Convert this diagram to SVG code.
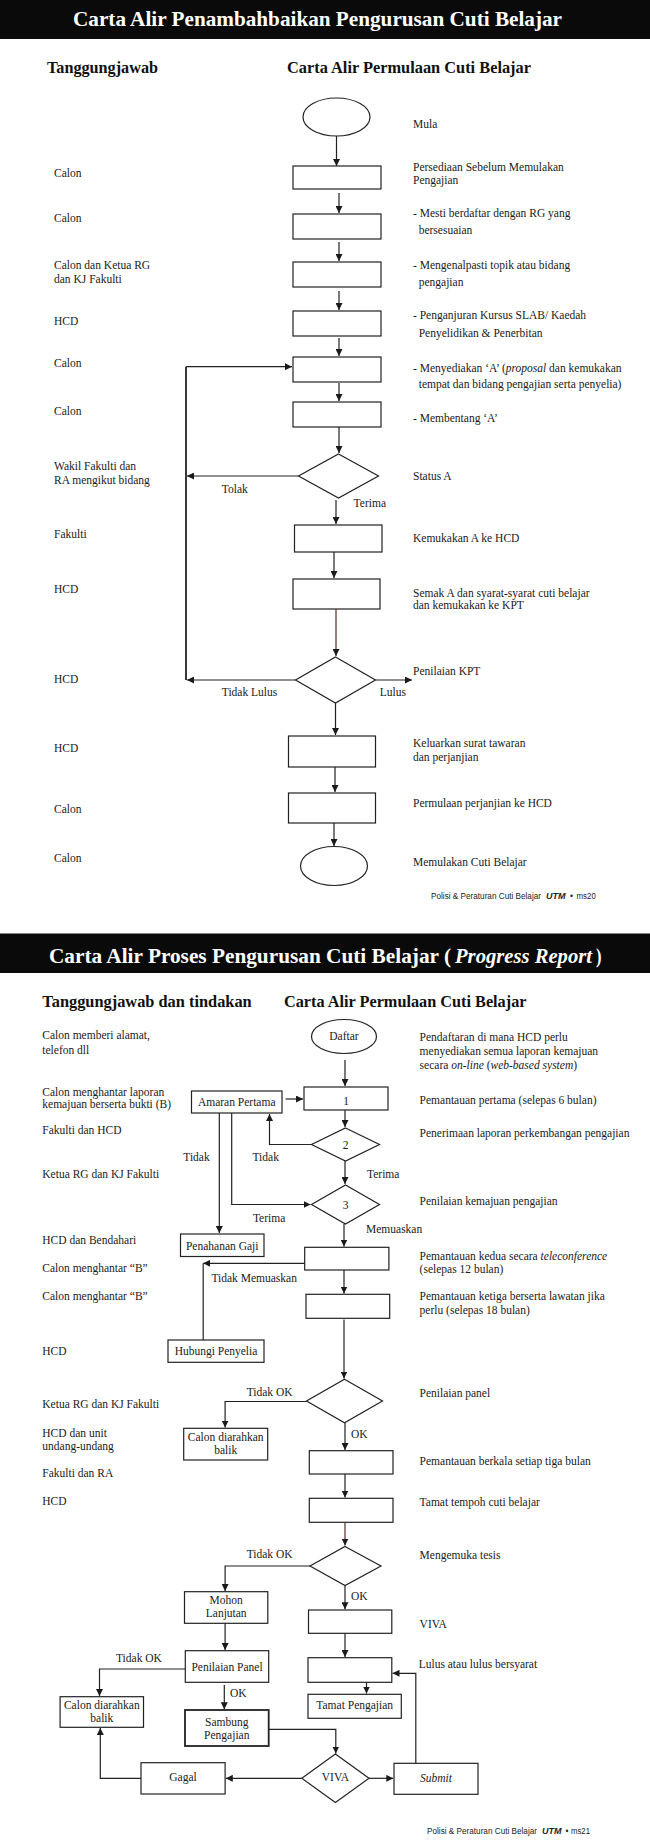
<svg xmlns="http://www.w3.org/2000/svg" width="650" height="1845" viewBox="0 0 650 1845">
<style>
.t{font-family:"Liberation Serif","Times New Roman",serif;font-size:11.5px;fill:#1a1a1a}
.c{text-anchor:middle}
.h{font-family:"Liberation Serif","Times New Roman",serif;font-weight:bold;font-size:16.5px;fill:#111}
.title{font-family:"Liberation Serif","Times New Roman",serif;font-weight:bold;font-size:21px;fill:#fff}
.f{font-family:"Liberation Sans",Arial,sans-serif;font-size:8.5px;fill:#222}
.n{fill:#fff;stroke:#222;stroke-width:1.2}
.k{fill:none;stroke:#222;stroke-width:1.2}
.r{stroke:#5a2a2a}
</style>
<defs>
<marker id="a" markerUnits="userSpaceOnUse" markerWidth="7" markerHeight="7" refX="7" refY="3.5" orient="auto">
<path d="M0,0 L7,3.5 L0,7 z" fill="#1a1a1a"/>
</marker>
</defs>
<rect x="0" y="0" width="650" height="1845" fill="#fff"/>

<!-- ===== PAGE 1 ===== -->
<rect x="0" y="0" width="650" height="39" fill="#0a0a0a"/>
<text class="title" x="73" y="26" textLength="489" lengthAdjust="spacingAndGlyphs">Carta Alir Penambahbaikan Pengurusan Cuti Belajar</text>
<text class="h" x="47" y="72.7" textLength="111" lengthAdjust="spacingAndGlyphs">Tanggungjawab</text>
<text class="h" x="287" y="72.7" textLength="244" lengthAdjust="spacingAndGlyphs">Carta Alir Permulaan Cuti Belajar</text>

<g id="p1-nodes">
<g id="p1-start"><ellipse class="n" cx="336.5" cy="117" rx="33.5" ry="19"/></g>
<g id="p1-b1"><rect class="n" x="293" y="166" width="88" height="23"/></g>
<g id="p1-b2"><rect class="n" x="293" y="214" width="88" height="25"/></g>
<g id="p1-b3"><rect class="n" x="293" y="262" width="88" height="25"/></g>
<g id="p1-b4"><rect class="n" x="293" y="311" width="88" height="25"/></g>
<g id="p1-b5"><rect class="n" x="293" y="357" width="88" height="25"/></g>
<g id="p1-b6"><rect class="n" x="293" y="402" width="88" height="25"/></g>
<g id="p1-d1"><polygon class="n" points="338.5,454 378.5,476 338.5,498 298.5,476"/></g>
<g id="p1-b7"><rect class="n" x="294.5" y="525" width="87.5" height="27"/></g>
<g id="p1-b8"><rect class="n" x="293" y="579" width="87" height="30"/></g>
<g id="p1-d2"><polygon class="n" points="335.5,657 375.5,680 335.5,703 295.5,680"/></g>
<g id="p1-b9"><rect class="n" x="288.5" y="736" width="87" height="31"/></g>
<g id="p1-b10"><rect class="n" x="288.5" y="793" width="87" height="30"/></g>
<g id="p1-end"><ellipse class="n" cx="334" cy="866" rx="33.5" ry="19.5"/></g>
</g>

<g id="p1-connectors">
<line class="k" x1="336.5" y1="136" x2="336.5" y2="166" marker-end="url(#a)"/>
<line class="k" x1="339" y1="193" x2="339" y2="213" marker-end="url(#a)"/>
<line class="k" x1="339" y1="242" x2="339" y2="261" marker-end="url(#a)"/>
<line class="k" x1="339" y1="291" x2="339" y2="310" marker-end="url(#a)"/>
<line class="k" x1="339" y1="338" x2="339" y2="356" marker-end="url(#a)"/>
<line class="k" x1="339" y1="383" x2="339" y2="401" marker-end="url(#a)"/>
<line class="k" x1="339" y1="427" x2="339" y2="453" marker-end="url(#a)"/>
<line class="k" x1="336" y1="500" x2="336" y2="524" marker-end="url(#a)"/>
<line class="k" x1="334" y1="552" x2="334" y2="578" marker-end="url(#a)"/>
<line class="k r" x1="336" y1="609" x2="336" y2="656" marker-end="url(#a)"/>
<line class="k" x1="335.5" y1="703" x2="335.5" y2="735" marker-end="url(#a)"/>
<line class="k" x1="335" y1="767" x2="335" y2="792" marker-end="url(#a)"/>
<line class="k" x1="334" y1="823" x2="334" y2="846" marker-end="url(#a)"/>
<line class="k" x1="298.5" y1="476" x2="187" y2="476" marker-end="url(#a)"/>
<line class="k" x1="295.5" y1="680" x2="187" y2="680" marker-end="url(#a)"/>
<line class="k" x1="186" y1="366.7" x2="186" y2="680" style="stroke-width:1.8"/>
<line class="k" x1="186" y1="366.7" x2="292" y2="366.7" marker-end="url(#a)"/>
<line class="k" x1="375.5" y1="680" x2="412" y2="680" marker-end="url(#a)"/>
</g>

<g id="p1-text">
<text class="t" x="54" y="177">Calon</text>
<text class="t" x="54" y="222">Calon</text>
<text class="t" x="54" y="269.3">Calon dan Ketua RG</text>
<text class="t" x="54" y="283.3">dan KJ Fakulti</text>
<text class="t" x="54" y="325">HCD</text>
<text class="t" x="54" y="366.7">Calon</text>
<text class="t" x="54" y="415">Calon</text>
<text class="t" x="54" y="470">Wakil Fakulti dan</text>
<text class="t" x="54" y="484.3">RA mengikut bidang</text>
<text class="t" x="54" y="538.3">Fakulti</text>
<text class="t" x="54" y="593.3">HCD</text>
<text class="t" x="54" y="682.7">HCD</text>
<text class="t" x="54" y="751.7">HCD</text>
<text class="t" x="54" y="812.7">Calon</text>
<text class="t" x="54" y="861.7">Calon</text>

<text class="t" x="413" y="128">Mula</text>
<text class="t" x="413" y="171">Persediaan Sebelum Memulakan</text>
<text class="t" x="413" y="184.3">Pengajian</text>
<text class="t" x="413" y="217.3">- Mesti berdaftar dengan RG yang</text>
<text class="t" x="418.7" y="234.3">bersesuaian</text>
<text class="t" x="413" y="268.7">- Mengenalpasti topik atau bidang</text>
<text class="t" x="418.7" y="285.7">pengajian</text>
<text class="t" x="413" y="319.3">- Penganjuran Kursus SLAB/ Kaedah</text>
<text class="t" x="418.7" y="336.7">Penyelidikan &amp; Penerbitan</text>
<text class="t" x="413" y="371.7">- Menyediakan ‘A’ (<tspan font-style="italic">proposal</tspan> dan kemukakan</text>
<text class="t" x="418.7" y="388.3">tempat dan bidang pengajian serta penyelia)</text>
<text class="t" x="413" y="421.7">- Membentang ‘A’</text>
<text class="t" x="413" y="480">Status A</text>
<text class="t" x="413" y="542.3">Kemukakan A ke HCD</text>
<text class="t" x="413" y="596.7">Semak A dan syarat-syarat cuti belajar</text>
<text class="t" x="413" y="609.3">dan kemukakan ke KPT</text>
<text class="t" x="413" y="675">Penilaian KPT</text>
<text class="t" x="413" y="746.7">Keluarkan surat tawaran</text>
<text class="t" x="413" y="760.7">dan perjanjian</text>
<text class="t" x="413" y="806.7">Permulaan perjanjian ke HCD</text>
<text class="t" x="413" y="866">Memulakan Cuti Belajar</text>

<text class="t" x="221.8" y="492.7">Tolak</text>
<text class="t" x="353.6" y="507.3">Terima</text>
<text class="t" x="221.8" y="696">Tidak Lulus</text>
<text class="t" x="379.8" y="696">Lulus</text>

<text class="f" x="431" y="899.3" textLength="110" lengthAdjust="spacingAndGlyphs">Polisi &amp; Peraturan Cuti Belajar</text>
<text class="f" x="546" y="899.3" font-weight="bold" font-style="italic" textLength="19.5" lengthAdjust="spacingAndGlyphs">UTM</text>
<text class="f" x="570" y="899.3" font-size="7">•</text>
<text class="f" x="576.5" y="899.3" textLength="19.3" lengthAdjust="spacingAndGlyphs">ms20</text>
</g>

<!-- ===== PAGE 2 ===== -->
<rect x="0" y="933.5" width="650" height="39.5" fill="#0a0a0a"/>
<text class="title" x="49" y="962.7" textLength="402" lengthAdjust="spacingAndGlyphs">Carta Alir Proses Pengurusan Cuti Belajar (</text>
<text class="title" x="455" y="962.7" font-style="italic" font-size="20.5" textLength="137" lengthAdjust="spacingAndGlyphs">Progress Report</text>
<text class="title" x="596" y="962.7" textLength="5.5" lengthAdjust="spacingAndGlyphs">)</text>
<text class="h" x="42.3" y="1007.3" textLength="209.4" lengthAdjust="spacingAndGlyphs">Tanggungjawab dan tindakan</text>
<text class="h" x="284" y="1007.3" textLength="242.5" lengthAdjust="spacingAndGlyphs">Carta Alir Permulaan Cuti Belajar</text>

<g id="p2-nodes">
<g id="p2-daftar"><ellipse class="n" cx="344" cy="1036.5" rx="32.5" ry="17"/><text class="t c" x="344" y="1040">Daftar</text></g>
<g id="p2-b1"><rect class="n" x="304" y="1087" width="84" height="23"/><text class="t c" x="346" y="1105">1</text></g>
<g id="p2-amaran"><rect class="n" x="191.5" y="1091" width="90.5" height="22"/><text class="t c" x="236.7" y="1105.5">Amaran Pertama</text></g>
<g id="p2-d2"><polygon class="n" points="345.5,1128 379.5,1144.5 345.5,1161 311.5,1144.5"/><text class="t c" x="345.5" y="1148.5">2</text></g>
<g id="p2-d3"><polygon class="n" points="345.5,1185 379.5,1204.5 345.5,1224 311.5,1204.5"/><text class="t c" x="345.5" y="1208.5">3</text></g>
<g id="p2-gaji"><rect class="n" x="180.5" y="1234" width="83.5" height="22.5"/><text class="t c" x="222.2" y="1250">Penahanan Gaji</text></g>
<g id="p2-kedua"><rect class="n" x="304.7" y="1247.3" width="84.2" height="22.7"/></g>
<g id="p2-ketiga"><rect class="n" x="306" y="1294.3" width="83.7" height="24"/></g>
<g id="p2-hubungi"><rect class="n" x="168" y="1340" width="96" height="22.3"/><text class="t c" x="216" y="1355">Hubungi Penyelia</text></g>
<g id="p2-panel"><polygon class="n" points="344.5,1379.3 382.5,1401 344.5,1422.7 306.5,1401"/></g>
<g id="p2-balik1"><rect class="n" x="183.7" y="1428.3" width="84" height="31.7"/><text class="t c" x="225.7" y="1441">Calon diarahkan</text><text class="t c" x="225.7" y="1454.3">balik</text></g>
<g id="p2-berkala"><rect class="n" x="309.3" y="1450.7" width="83.7" height="23.3"/></g>
<g id="p2-tempoh"><rect class="n" x="309.3" y="1498.3" width="83.7" height="24"/></g>
<g id="p2-tesis"><polygon class="n" points="345,1546.5 381,1566 345,1585.5 310,1566"/></g>
<g id="p2-mohon"><rect class="n" x="184.5" y="1591.7" width="83.3" height="31.6"/><text class="t c" x="226.2" y="1604">Mohon</text><text class="t c" x="226.2" y="1617">Lanjutan</text></g>
<g id="p2-vivabox"><rect class="n" x="308.5" y="1610" width="83.3" height="23.3"/></g>
<g id="p2-ppanel"><rect class="n" x="185.3" y="1650.7" width="83.4" height="31.6"/><text class="t c" x="227" y="1670.7">Penilaian Panel</text></g>
<g id="p2-lulus"><rect class="n" x="308" y="1657.7" width="83.8" height="24.6"/></g>
<g id="p2-tamat"><rect class="n" x="308" y="1694.3" width="93.3" height="24"/><text class="t c" x="354.7" y="1708.5">Tamat Pengajian</text></g>
<g id="p2-balik2"><rect class="n" x="60.1" y="1696.7" width="83.4" height="30.6"/><text class="t c" x="101.8" y="1709">Calon diarahkan</text><text class="t c" x="101.8" y="1722.3">balik</text></g>
<g id="p2-sambung"><rect class="n" x="185" y="1710" width="83.7" height="36" style="stroke-width:1.8"/><text class="t c" x="226.8" y="1725.7">Sambung</text><text class="t c" x="226.8" y="1739.3">Pengajian</text></g>
<g id="p2-viva"><polygon class="n" points="335.4,1754.1 369,1778.3 335.4,1802.5 301.8,1778.3"/><text class="t c" x="335.4" y="1781">VIVA</text></g>
<g id="p2-gagal"><rect class="n" x="141" y="1762.7" width="84.1" height="31.3"/><text class="t c" x="183" y="1781">Gagal</text></g>
<g id="p2-submit"><rect class="n" x="394" y="1763.3" width="84" height="31"/><text class="t c" x="436" y="1781.7" font-style="italic">Submit</text></g>
</g>

<g id="p2-connectors">
<line class="k" x1="345" y1="1060" x2="345" y2="1086" marker-end="url(#a)"/>
<line class="k" x1="285.6" y1="1099" x2="303" y2="1099" marker-end="url(#a)"/>
<line class="k" x1="345" y1="1110" x2="345" y2="1127" marker-end="url(#a)"/>
<polyline class="k" points="311.5,1144.5 269.5,1144.5 269.5,1114" marker-end="url(#a)"/>
<line class="k" x1="345" y1="1161" x2="345" y2="1184" marker-end="url(#a)"/>
<polyline class="k" points="231.7,1113 231.7,1204.5 310.5,1204.5" marker-end="url(#a)"/>
<line class="k" x1="219.3" y1="1113" x2="219.3" y2="1233" marker-end="url(#a)"/>
<line class="k" x1="344" y1="1224" x2="344" y2="1246.5" marker-end="url(#a)"/>
<line class="k" x1="304.7" y1="1263.3" x2="203.2" y2="1263.3" marker-end="url(#a)"/>
<line class="k" x1="203.2" y1="1263.3" x2="203.2" y2="1340"/>
<line class="k" x1="344" y1="1270" x2="344" y2="1293.5" marker-end="url(#a)"/>
<line class="k" x1="344" y1="1319.5" x2="344" y2="1378.5" marker-end="url(#a)"/>
<polyline class="k" points="306.5,1401.5 225.1,1401.5 225.1,1427.5" marker-end="url(#a)"/>
<line class="k" x1="345" y1="1422.7" x2="345" y2="1450" marker-end="url(#a)"/>
<line class="k" x1="345" y1="1474" x2="345" y2="1497.5" marker-end="url(#a)"/>
<line class="k r" x1="345" y1="1522.3" x2="345" y2="1545.5" marker-end="url(#a)"/>
<polyline class="k" points="310,1566 225.1,1566 225.1,1591" marker-end="url(#a)"/>
<line class="k" x1="345" y1="1585.5" x2="345" y2="1609.3" marker-end="url(#a)"/>
<line class="k" x1="225.1" y1="1623.3" x2="225.1" y2="1650" marker-end="url(#a)"/>
<line class="k" x1="345" y1="1633.3" x2="345" y2="1657" marker-end="url(#a)"/>
<polyline class="k" points="185.3,1669 99.5,1669 99.5,1696" marker-end="url(#a)"/>
<line class="k" x1="224.3" y1="1685" x2="224.3" y2="1709.3" marker-end="url(#a)"/>
<polyline class="k" points="268.7,1729.3 335.8,1729.3 335.8,1753.5" marker-end="url(#a)"/>
<line class="k" x1="366.5" y1="1682.3" x2="366.5" y2="1693.5" marker-end="url(#a)"/>
<line class="k" x1="369" y1="1778.3" x2="393.3" y2="1778.3" marker-end="url(#a)"/>
<polyline class="k" points="415.8,1763.3 415.8,1673.3 392.5,1673.3" marker-end="url(#a)"/>
<line class="k" x1="301.8" y1="1778.3" x2="225.8" y2="1778.3" marker-end="url(#a)"/>
<polyline class="k" points="141,1778.3 100.3,1778.3 100.3,1728" marker-end="url(#a)"/>
</g>

<g id="p2-text">
<text class="t" x="42.3" y="1039.3">Calon memberi alamat,</text>
<text class="t" x="42.3" y="1054">telefon dll</text>
<text class="t" x="42.3" y="1095.7">Calon menghantar laporan</text>
<text class="t" x="42.3" y="1107.7">kemajuan berserta bukti (B)</text>
<text class="t" x="42.3" y="1134.3">Fakulti dan HCD</text>
<text class="t" x="42.3" y="1178">Ketua RG dan KJ Fakulti</text>
<text class="t" x="42.3" y="1244">HCD dan Bendahari</text>
<text class="t" x="42.3" y="1271.7">Calon menghantar “B”</text>
<text class="t" x="42.3" y="1300">Calon menghantar “B”</text>
<text class="t" x="42.3" y="1355">HCD</text>
<text class="t" x="42.3" y="1408.3">Ketua RG dan KJ Fakulti</text>
<text class="t" x="42.3" y="1436.7">HCD dan unit</text>
<text class="t" x="42.3" y="1450">undang-undang</text>
<text class="t" x="42.3" y="1476.7">Fakulti dan RA</text>
<text class="t" x="42.3" y="1505">HCD</text>

<text class="t" x="419.6" y="1040.7">Pendaftaran di mana HCD perlu</text>
<text class="t" x="419.6" y="1055">menyediakan semua laporan kemajuan</text>
<text class="t" x="419.6" y="1069.3">secara <tspan font-style="italic">on-line</tspan> (<tspan font-style="italic">web-based system</tspan>)</text>
<text class="t" x="419.6" y="1104.3">Pemantauan pertama (selepas 6 bulan)</text>
<text class="t" x="419.6" y="1136.7">Penerimaan laporan perkembangan pengajian</text>
<text class="t" x="419.6" y="1205">Penilaian kemajuan pengajian</text>
<text class="t" x="419.6" y="1260">Pemantauan kedua secara <tspan font-style="italic">teleconference</tspan></text>
<text class="t" x="419.6" y="1272.7">(selepas 12 bulan)</text>
<text class="t" x="419.6" y="1300">Pemantauan ketiga berserta lawatan jika</text>
<text class="t" x="419.6" y="1314">perlu (selepas 18 bulan)</text>
<text class="t" x="419.6" y="1396.7">Penilaian panel</text>
<text class="t" x="419.6" y="1465">Pemantauan berkala setiap tiga bulan</text>
<text class="t" x="419.6" y="1506">Tamat tempoh cuti belajar</text>
<text class="t" x="419.6" y="1559.3">Mengemuka tesis</text>
<text class="t" x="419.6" y="1628.3">VIVA</text>
<text class="t" x="418.7" y="1668.3">Lulus atau lulus bersyarat</text>

<text class="t" x="183.3" y="1160.7">Tidak</text>
<text class="t" x="252.5" y="1160.7">Tidak</text>
<text class="t" x="367" y="1177.5">Terima</text>
<text class="t" x="252.9" y="1222.3">Terima</text>
<text class="t" x="366" y="1233.3">Memuaskan</text>
<text class="t" x="211.4" y="1281.7">Tidak Memuaskan</text>
<text class="t" x="246.7" y="1395.7">Tidak OK</text>
<text class="t" x="351" y="1438.3">OK</text>
<text class="t" x="246.7" y="1558.3">Tidak OK</text>
<text class="t" x="351" y="1600">OK</text>
<text class="t" x="116" y="1661.7">Tidak OK</text>
<text class="t" x="230" y="1696.7">OK</text>

<text class="f" x="427" y="1834" textLength="110" lengthAdjust="spacingAndGlyphs">Polisi &amp; Peraturan Cuti Belajar</text>
<text class="f" x="542" y="1834" font-weight="bold" font-style="italic" textLength="19.5" lengthAdjust="spacingAndGlyphs">UTM</text>
<text class="f" x="565.5" y="1834" font-size="7">•</text>
<text class="f" x="571" y="1834" textLength="19" lengthAdjust="spacingAndGlyphs">ms21</text>
</g>
</svg>
